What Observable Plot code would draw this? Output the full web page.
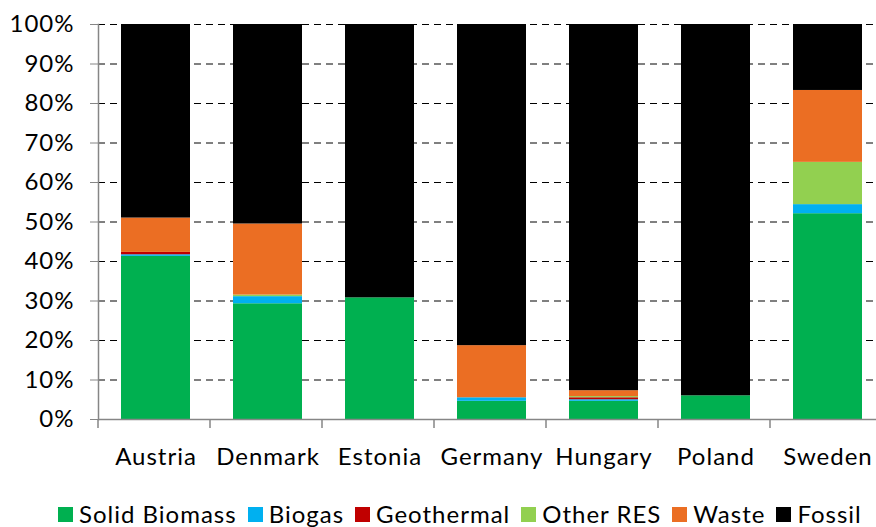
<!DOCTYPE html>
<html>
<head>
<meta charset="utf-8">
<script src="https://cdn.jsdelivr.net/npm/d3@7"></script>
<script src="https://cdn.jsdelivr.net/npm/@observablehq/plot@0.6"></script>
<style>
  body { margin: 0; background: #fff; font-family: Lato, sans-serif; overflow: hidden; }
  #chart svg { display: block; }
  #chart svg text { letter-spacing: 1px; }
  .legend { display: flex; justify-content: flex-start; align-items: center; font-size: 24px; line-height: 26px; letter-spacing: 1px; color: #000; margin-top: 21px; height: 26px; padding-left: 58px; }
  .legend .item { display: flex; align-items: center; margin-right: 11px; }
  .legend .sw { width: 15px; height: 15px; margin-right: 6px; }
</style>
</head>
<body>
<div id="chart"></div>
<div class="legend" id="legend"></div>
<script>
const countries = ["Austria", "Denmark", "Estonia", "Germany", "Hungary", "Poland", "Sweden"];
const sources = ["Solid Biomass", "Biogas", "Geothermal", "Other RES", "Waste", "Fossil"];
const colors = ["#00B050", "#00B0F0", "#C00000", "#92D050", "#EB6E23", "#000000"];
const solidBiomass = [41.3, 29.3, 30.8, 4.6, 4.6, 6.0, 52.1];
const biogas       = [0.4, 1.8, 0, 0.9, 0.4, 0, 2.3];
const geothermal   = [0.6, 0, 0, 0, 0.5, 0, 0];
const otherRES     = [0, 0.4, 0, 0, 0.3, 0, 10.7];
const waste        = [8.7, 18.0, 0, 13.2, 1.5, 0, 18.2];
const fossil       = [49.0, 50.5, 69.2, 81.3, 92.7, 94.0, 16.7];
const yTicks = [0, 10, 20, 30, 40, 50, 60, 70, 80, 90, 100];

const seriesValues = [solidBiomass, biogas, geothermal, otherRES, waste, fossil];
const data = countries.flatMap((c, i) =>
  sources.map((s, j) => ({country: c, source: s, value: seriesValues[j][i]})));

const plot = Plot.plot({
  width: 876,
  height: 480,
  marginTop: 24,
  marginBottom: 61,
  marginLeft: 98,
  marginRight: 0,
  x: {domain: countries, range: [100, 884], paddingInner: 0.38, paddingOuter: 0.19, label: null},
  y: {domain: [0, 100], label: null},
  color: {domain: sources, range: colors},
  style: {fontFamily: "Lato, sans-serif", fontSize: "24px", color: "#000", background: "#fff"},
  marks: [
    Plot.ruleY(yTicks.slice(1), {stroke: "#000", strokeDasharray: "7,5", strokeWidth: 1}),
    Plot.barY(data, {x: "country", y: "value", fill: "source", order: sources}),
    Plot.ruleY([0], {stroke: "#868686", strokeWidth: 1.5}),
    Plot.frame({anchor: "left", stroke: "#868686", strokeWidth: 1.5}),
    Plot.axisY(yTicks, {tickFormat: d => d + "%", tickSize: 8, tickPadding: 16, stroke: "#868686", fontSize: 24, label: null}),
    Plot.axisX({tickSize: 0, tickPadding: 28, fontSize: 24, label: null}),
    Plot.axisX({tickSize: 9, text: null, dx: -58, stroke: "#868686", strokeWidth: 1.5, label: null})
  ]
});
document.getElementById("chart").appendChild(plot);

const legend = document.getElementById("legend");
sources.forEach((s, i) => {
  const item = document.createElement("div");
  item.className = "item";
  const sw = document.createElement("span");
  sw.className = "sw";
  sw.style.background = colors[i];
  const t = document.createElement("span");
  t.textContent = s;
  item.appendChild(sw);
  item.appendChild(t);
  legend.appendChild(item);
});
</script>
</body>
</html>
